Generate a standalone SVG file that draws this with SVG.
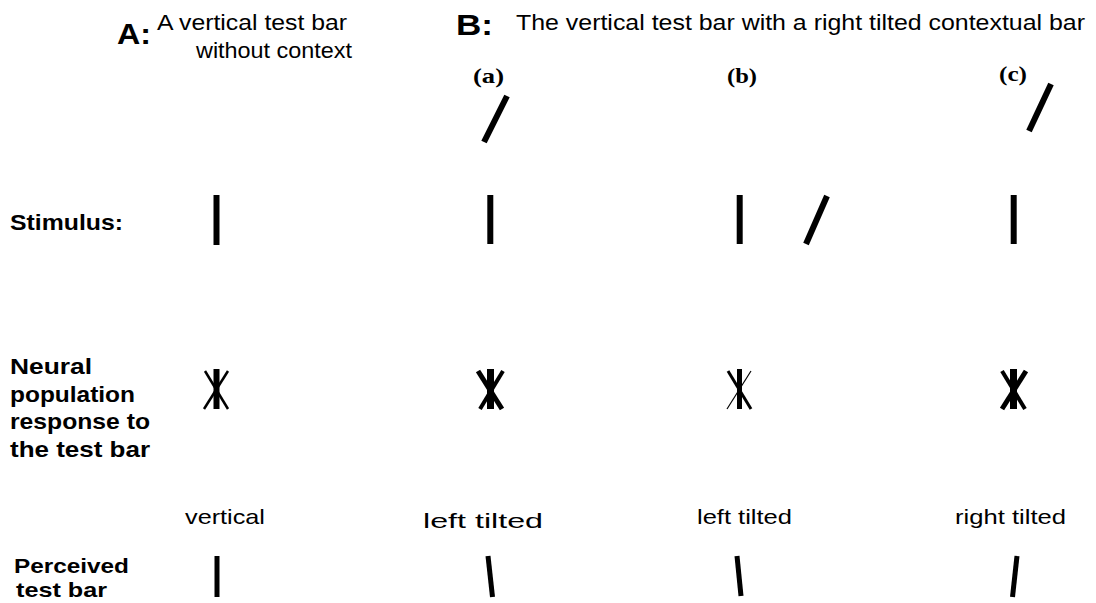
<svg xmlns="http://www.w3.org/2000/svg" width="1096" height="603" viewBox="0 0 1096 603">
<style>
text{font-family:"Liberation Sans",Arial,sans-serif;fill:#000}
.big{font-weight:bold;font-size:30px}
.hdr{font-size:22px}
.lbl{font-weight:bold;font-size:22px}
.lbl2{font-weight:bold;font-size:21px}
.sub{font-family:"Liberation Serif","Times New Roman",serif;font-weight:bold;font-size:21px}
.cap{font-size:21px}
.bar{stroke:#000;stroke-width:6;fill:none}
.pbar{stroke:#000;stroke-width:5;fill:none}
</style>
<rect width="1096" height="603" fill="#fff"/>
<g id="headers">
<text class="big" x="117" y="44" textLength="34" lengthAdjust="spacingAndGlyphs">A:</text>
<text class="hdr" x="157" y="30" textLength="190" lengthAdjust="spacingAndGlyphs">A vertical test bar</text>
<text class="hdr" x="196" y="58" textLength="156" lengthAdjust="spacingAndGlyphs">without context</text>
<text class="big" x="456" y="35" textLength="37" lengthAdjust="spacingAndGlyphs">B:</text>
<text class="hdr" x="516" y="30" textLength="569" lengthAdjust="spacingAndGlyphs">The vertical test bar with a right tilted contextual bar</text>
<text class="sub" x="473" y="83" textLength="31" lengthAdjust="spacingAndGlyphs">(a)</text>
<text class="sub" x="727" y="83" textLength="30" lengthAdjust="spacingAndGlyphs">(b)</text>
<text class="sub" x="999" y="81" textLength="28" lengthAdjust="spacingAndGlyphs">(c)</text>
</g>
<g id="row-labels">
<text class="lbl" x="10" y="230" textLength="113" lengthAdjust="spacingAndGlyphs">Stimulus:</text>
<text class="lbl" x="10" y="374" textLength="82" lengthAdjust="spacingAndGlyphs">Neural</text>
<text class="lbl" x="10" y="402" textLength="125" lengthAdjust="spacingAndGlyphs">population</text>
<text class="lbl" x="10" y="429" textLength="140" lengthAdjust="spacingAndGlyphs">response to</text>
<text class="lbl" x="10" y="457" textLength="140" lengthAdjust="spacingAndGlyphs">the test bar</text>
<text class="lbl2" x="14" y="573" textLength="115" lengthAdjust="spacingAndGlyphs">Perceived</text>
<text class="lbl2" x="16" y="597" textLength="91" lengthAdjust="spacingAndGlyphs">test bar</text>
</g>
<g id="col-A">
<line class="bar" x1="216.5" y1="195" x2="216.5" y2="245"/>
<line x1="205" y1="371" x2="228" y2="409" stroke="#000" stroke-width="2.5"/>
<line x1="228" y1="371" x2="204" y2="409" stroke="#000" stroke-width="2.5"/>
<line x1="216.5" y1="369" x2="216.5" y2="409" stroke="#000" stroke-width="6"/>
<text class="cap" x="185" y="524" textLength="80" lengthAdjust="spacingAndGlyphs">vertical</text>
<line class="pbar" x1="217" y1="556" x2="217" y2="597"/>
</g>
<g id="col-a">
<line class="bar" x1="507" y1="96" x2="484" y2="142"/>
<line class="bar" x1="490.3" y1="195" x2="490.3" y2="244"/>
<line x1="478" y1="371" x2="502" y2="409" stroke="#000" stroke-width="5"/>
<line x1="503" y1="371" x2="480" y2="409" stroke="#000" stroke-width="4"/>
<line x1="490.5" y1="369" x2="490.5" y2="409" stroke="#000" stroke-width="7"/>
<text class="cap" x="423" y="528" textLength="120" lengthAdjust="spacingAndGlyphs">left tilted</text>
<line class="pbar" x1="488" y1="556" x2="492.5" y2="597"/>
</g>
<g id="col-b">
<line class="bar" x1="739.7" y1="195" x2="739.7" y2="244"/>
<line class="bar" x1="827" y1="196" x2="806" y2="244"/>
<line x1="728" y1="371" x2="751" y2="409" stroke="#000" stroke-width="3"/>
<line x1="751" y1="371" x2="727" y2="409" stroke="#000" stroke-width="1.2"/>
<line x1="739.5" y1="369" x2="739.5" y2="409" stroke="#000" stroke-width="5"/>
<text class="cap" x="697" y="524" textLength="95" lengthAdjust="spacingAndGlyphs">left tilted</text>
<line class="pbar" x1="737" y1="556" x2="741" y2="596"/>
</g>
<g id="col-c">
<line class="bar" x1="1051" y1="84" x2="1029" y2="131"/>
<line class="bar" x1="1013.7" y1="195" x2="1013.7" y2="244"/>
<line x1="1002" y1="371" x2="1025" y2="409" stroke="#000" stroke-width="4"/>
<line x1="1026" y1="371" x2="1002" y2="409" stroke="#000" stroke-width="5"/>
<line x1="1013.5" y1="369" x2="1013.5" y2="409" stroke="#000" stroke-width="7"/>
<text class="cap" x="955" y="524" textLength="111" lengthAdjust="spacingAndGlyphs">right tilted</text>
<line class="pbar" x1="1017" y1="556" x2="1012.5" y2="597"/>
</g>
<g id="connectors"></g>
</svg>
